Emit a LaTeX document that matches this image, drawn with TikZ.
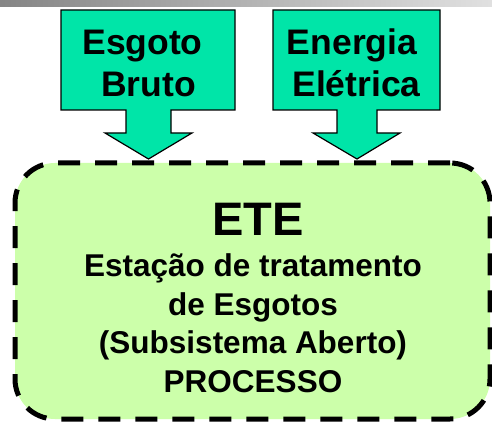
\documentclass[tikz,border=0pt]{standalone}
\usepackage{fontspec}
\setmainfont{Liberation Sans}
\definecolor{entrada}{RGB}{0,229,168}
\definecolor{sistema}{RGB}{204,255,170}
\begin{document}
\begin{tikzpicture}[x=1pt, y=-1pt,
    seta/.style={draw=black, line width=1.2pt, fill=entrada},
    rotulo/.style={anchor=base, font=\fontsize{35.5}{40}\selectfont\bfseries},
    linha/.style={anchor=base, font=\fontsize{31.5}{38}\selectfont\bfseries}]
    \useasboundingbox (0,0) rectangle (492,422);
    \shade[left color=black!48, right color=black!12] (0,0) rectangle (492,7);
    % caixa do sistema
    \node[draw, fill=sistema, line width=5pt, dash pattern=on 22pt off 15pt,
          rounded corners=40pt, minimum width=475pt, minimum height=256pt] (ete) at (252.5,291) {};
    % entradas
    \draw[seta] (61,10) -- (235,10) -- (235,110) -- (171,110) -- (171,133) -- (192,133)
        -- (148.5,159) -- (105,133) -- (126,133) -- (126,110) -- (61,110) -- cycle;
    \draw[seta] (273,10) -- (440,10) -- (440,110) -- (377,110) -- (377,133) -- (400,133)
        -- (357,159) -- (313,133) -- (337,133) -- (337,110) -- (273,110) -- cycle;
    \node[rotulo] (esgoto) at (142.5,55) {Esgoto};
    \node[rotulo] (bruto) at (148.5,97) {Bruto};
    \node[rotulo] (energia) at (352,55) {Energia};
    \node[rotulo] (eletrica) at (356.5,97) {Elétrica};
    % texto da ETE
    \node[anchor=base, font=\fontsize{47}{50}\selectfont\bfseries] (titulo) at (258,235) {ETE};
    \node[linha] (estacao) at (253,276) {Estação de tratamento};
    \node[linha] (esgotos) at (253,315) {de Esgotos};
    \node[linha] (subsistema) at (253,353) {(Subsistema Aberto)};
    \node[linha] (processo) at (253,392) {PROCESSO};
\end{tikzpicture}
\end{document}
